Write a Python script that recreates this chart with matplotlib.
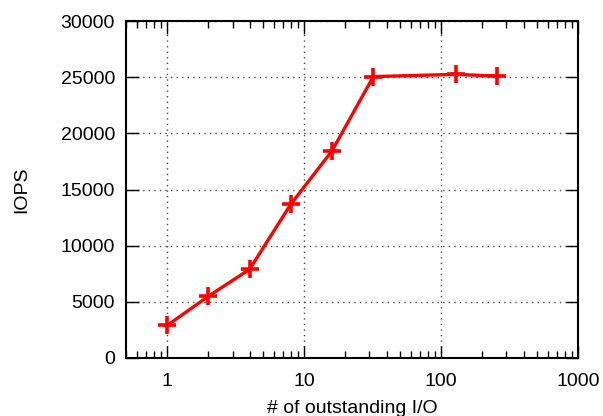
import matplotlib
matplotlib.use("Agg")
import matplotlib.pyplot as plt
from matplotlib.ticker import LogLocator, FixedLocator, FixedFormatter

plt.rcParams['font.family'] = ['Liberation Sans', 'DejaVu Sans']

# dati
outstanding_io = [1, 2, 4, 8, 16, 32, 128, 256]
iops = [2900, 5500, 7900, 13700, 18450, 25050, 25250, 25100]

xticks = [1, 10, 100, 1000]
xtick_labels = ['1', '10', '100', '1000']
yticks = [0, 5000, 10000, 15000, 20000, 25000, 30000]

fig = plt.figure(figsize=(6.03, 4.16), dpi=100)
ax = fig.add_axes([126 / 603, 1 - 358 / 416, (578 - 126) / 603, (358 - 21) / 416])

ax.plot(outstanding_io, iops, color='#ff0000', linewidth=2.4, marker='+',
        markersize=13, markeredgewidth=2.6)

ax.set_xscale('log')
ax.set_xlim(0.5, 1000)
ax.set_ylim(0, 30000)

ax.xaxis.set_major_locator(FixedLocator(xticks))
ax.xaxis.set_major_formatter(FixedFormatter(xtick_labels))
ax.xaxis.set_minor_locator(LogLocator(base=10, subs=range(2, 10)))
ax.set_yticks(yticks)

ax.tick_params(which='both', direction='in', top=True, right=True, labelsize=14,
               color='black', width=1.0)
ax.tick_params(which='major', length=9, pad=8)
ax.tick_params(which='minor', length=5)
ax.xaxis.set_tick_params(pad=11)

for s in ax.spines.values():
    s.set_linewidth(1.5)

ax.grid(True, which='major', linestyle=(0, (1, 3)), color='#444444', linewidth=1.0)

ax.set_xlabel('# of outstanding I/O', fontsize=14, labelpad=7)
ax.set_ylabel('IOPS', fontsize=14, labelpad=22)

fig.savefig('out.png', dpi=100)
